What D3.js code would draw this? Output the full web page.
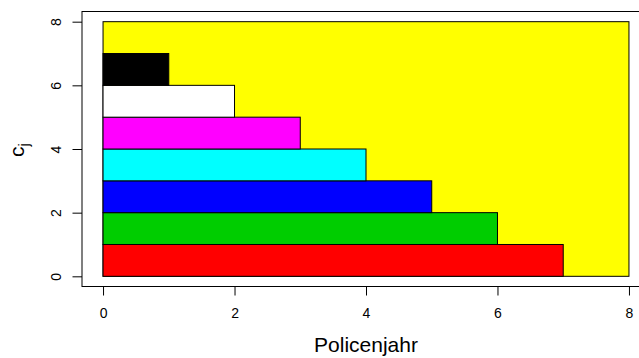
<!DOCTYPE html>
<html>
<head>
<meta charset="utf-8">
<script src="https://cdn.jsdelivr.net/npm/d3@7"></script>
<style>
  html, body { margin: 0; padding: 0; background: #fff; }
  svg { display: block; font-family: "Liberation Sans", Arial, sans-serif; }
</style>
</head>
<body>
<svg id="chart" width="639" height="358"></svg>
<script>
// Claim-development staircase: one bar per row, drawn over a yellow field
const years = [7, 6, 5, 4, 3, 2, 1];          // bar length (Policenjahr) per row
const rows = [0, 1, 2, 3, 4, 5, 6];            // lower edge of each row (c_j)
const barColors = ["#ff0000", "#00cd00", "#0000ff", "#00ffff", "#ff00ff", "#ffffff", "#000000"];
const field = { x0: 0, x1: 8, y0: 0, y1: 8 };  // yellow background region
const xTicks = [0, 2, 4, 6, 8];
const yTicks = [0, 2, 4, 6, 8];

const svg = d3.select("#chart");
const FONT = "Liberation Sans, Arial, sans-serif";

// Plot region spans data 0..8 with a 4% pad on each side
const x = d3.scaleLinear().domain([-0.32, 8.32]).range([82, 650]);
const y = d3.scaleLinear().domain([-0.32, 8.32]).range([286.5, 11.5]);

// yellow field
svg.append("rect")
  .attr("x", x(field.x0)).attr("y", y(field.y1))
  .attr("width", x(field.x1) - x(field.x0))
  .attr("height", y(field.y0) - y(field.y1))
  .attr("fill", "#ffff00").attr("stroke", "#000").attr("stroke-width", 1);

// bars
svg.append("g").selectAll("rect")
  .data(rows.map((r, i) => ({ r, len: years[i], c: barColors[i] })))
  .join("rect")
  .attr("x", x(0))
  .attr("y", d => y(d.r + 1))
  .attr("width", d => x(d.len) - x(0))
  .attr("height", d => y(d.r) - y(d.r + 1))
  .attr("fill", d => d.c)
  .attr("stroke", "#000").attr("stroke-width", 1);

// frame
svg.append("rect")
  .attr("x", 82).attr("y", 11.5)
  .attr("width", 650 - 82).attr("height", 286.5 - 11.5)
  .attr("fill", "none").attr("stroke", "#000").attr("stroke-width", 1);

// x axis
const xAxis = svg.append("g").attr("transform", "translate(0,286.5)")
  .call(d3.axisBottom(x).tickValues(xTicks).tickSize(9).tickSizeOuter(0));
xAxis.attr("font-size", null).attr("font-family", null);
xAxis.select(".domain").remove();
xAxis.selectAll("text")
  .style("font-size", "14px").attr("fill", "#000").style("font-family", FONT)
  .attr("y", 31.5).attr("dy", null);

// y axis with rotated labels
const yAxis = svg.append("g").attr("transform", "translate(82,0)")
  .call(d3.axisLeft(y).tickValues(yTicks).tickSize(9.5).tickSizeOuter(0));
yAxis.attr("font-size", null).attr("font-family", null);
yAxis.select(".domain").remove();
yAxis.selectAll("text")
  .style("font-size", "14px").attr("fill", "#000").style("font-family", FONT)
  .attr("x", null).attr("dy", null)
  .attr("text-anchor", "middle")
  .attr("transform", "translate(-21.3,0) rotate(-90)");

// axis titles
svg.append("text")
  .attr("x", x(4)).attr("y", 352)
  .attr("text-anchor", "middle")
  .style("font-size", "21px")
  .text("Policenjahr");

const yt = svg.append("text")
  .attr("transform", "translate(24,150) rotate(-90)")
  .attr("text-anchor", "middle")
  .style("font-size", "21px");
yt.append("tspan").text("c");
yt.append("tspan").style("font-size", "15px").attr("dy", 5).text("j");
</script>
</body>
</html>
